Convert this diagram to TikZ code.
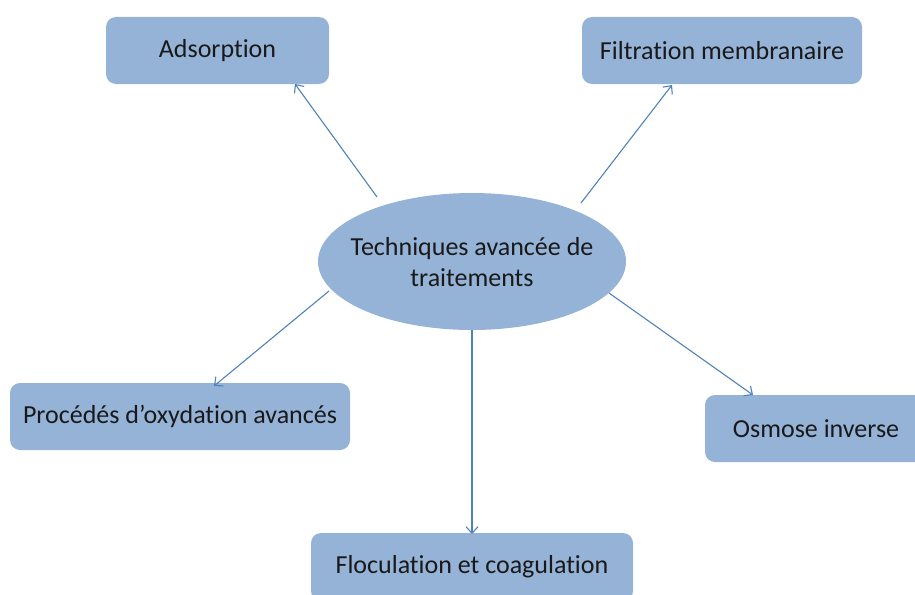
\documentclass[tikz,border=0pt]{standalone}
\usepackage{fontspec}
\setmainfont[Ligatures=NoCommon]{Carlito}
\usetikzlibrary{shapes.geometric,arrows.meta}
\definecolor{boxblue}{HTML}{95B3D7}
\definecolor{linkblue}{HTML}{4F81BD}
\begin{document}
\begin{tikzpicture}[x=1pt,y=-1pt,
  topic/.style={fill=boxblue, draw=none, rounded corners=10pt, inner sep=0pt,
    font=\fontsize{26}{31}\selectfont, text=black!90},
  hub/.style={ellipse, fill=boxblue, draw=none, inner sep=0pt,
    minimum width=308pt, minimum height=137pt},
  hubtext/.style={align=center, inner sep=0pt,
    font=\fontsize{26}{31}\selectfont, text=black!90},
  link/.style={draw=linkblue, line width=1.1pt, -{Straight Barb[length=6.5pt,width=12pt]}}]
\useasboundingbox (0,0) rectangle (915,594);
\begin{scope}
\clip (0,0) rectangle (915,594);
% central ellipse and its caption
\node[hub] (hub) at (472,261.5) {};
\node[hubtext] (hubcap) at (472,262) {Techniques avancée de\\traitements};
% surrounding techniques
\node[topic, minimum width=223pt, minimum height=67pt] (ads) at (217.5,50.5) {Adsorption};
\node[topic, minimum width=280pt, minimum height=67pt] (filt) at (722,50.5) {Filtration membranaire};
\node[topic, minimum width=340pt, minimum height=67pt] (poa) at (180,416.5) {Procédés d’oxydation avancés};
\node[topic, minimum width=222pt, minimum height=67pt] (osm) at (816,428.5) {Osmose inverse};
\node[topic, minimum width=322pt, minimum height=68pt] (floc) at (472,567) {Floculation et coagulation};
% arrow end points on the boxes
\coordinate (adsTip) at (295,84);
\coordinate (filtTip) at (672,85);
\coordinate (poaTip) at (214,386);
\coordinate (flocTip) at (472,534);
\coordinate (osmTip) at (753,395);
% connectors
\draw[link] (377,197) -- (adsTip);
\draw[link] (581,203) -- (filtTip);
\draw[link] (329,291) -- (poaTip);
\draw[link] (hub.south) -- (flocTip);
\draw[link] (609,293) -- (osmTip);
\end{scope}
\end{tikzpicture}
\end{document}
